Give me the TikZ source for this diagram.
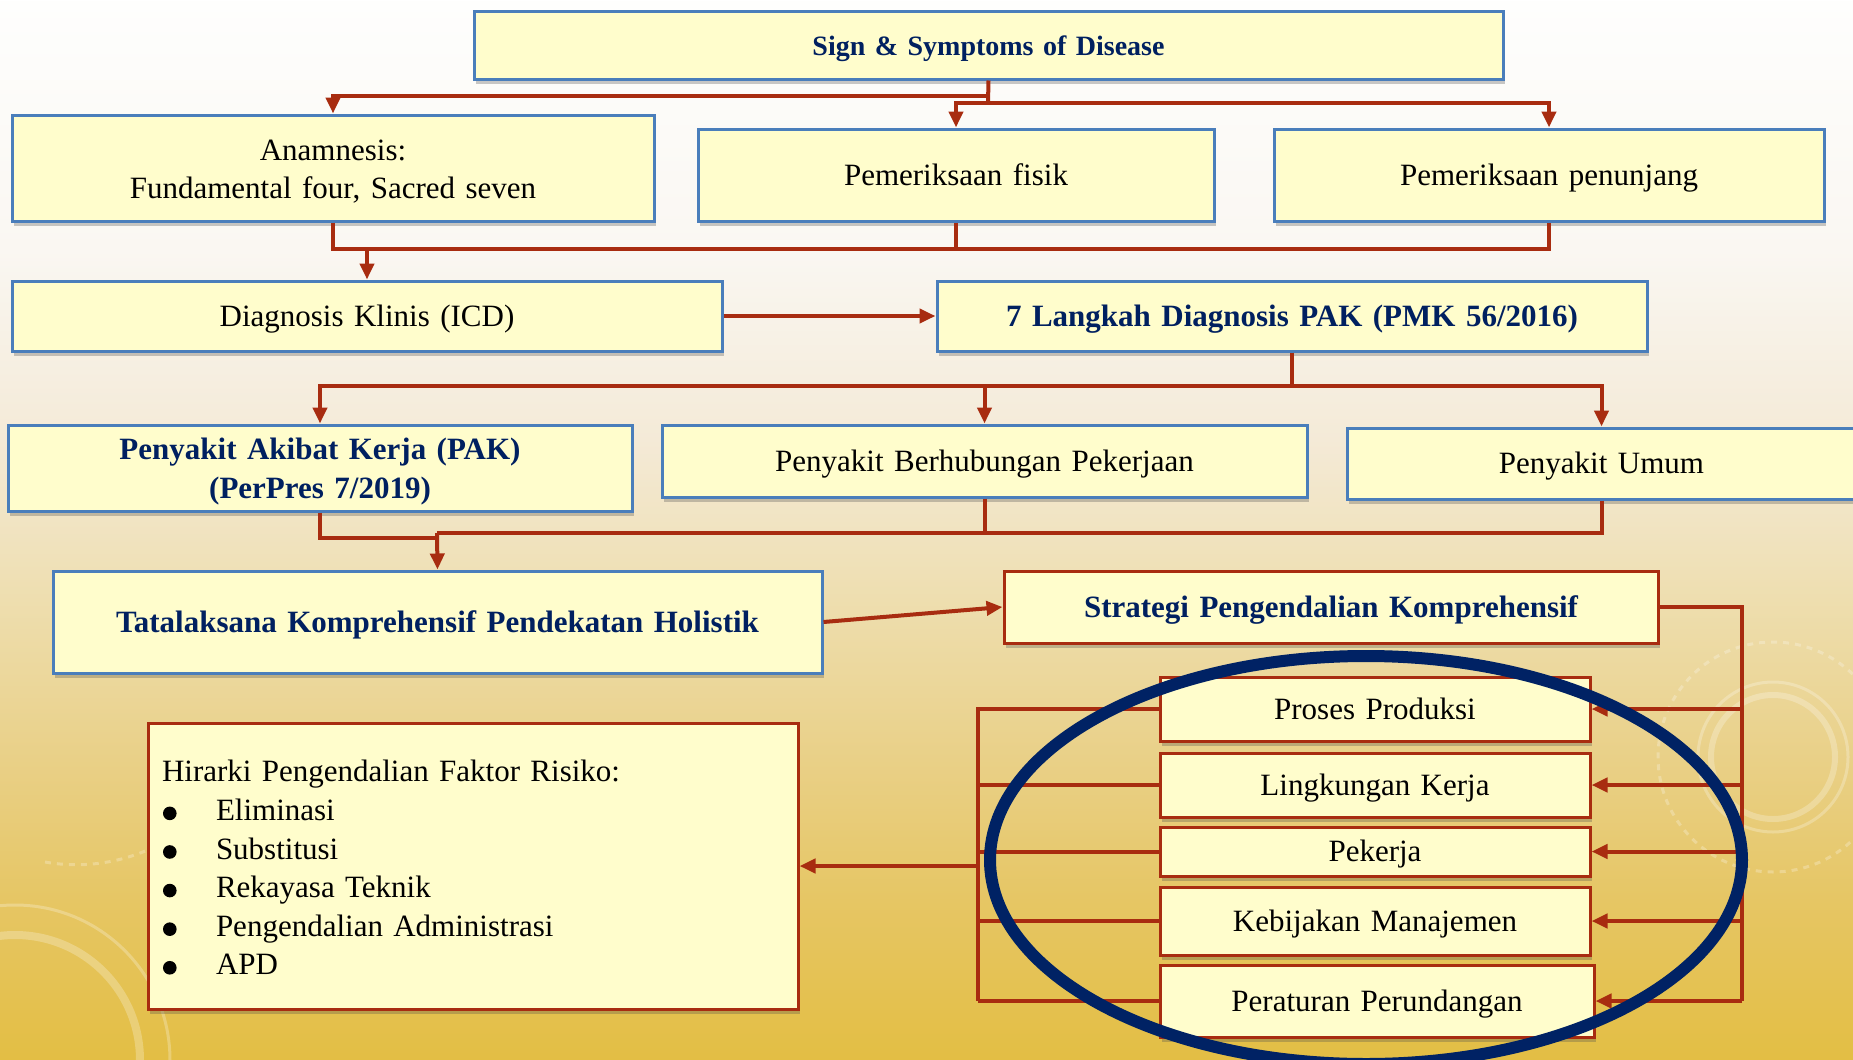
\documentclass[tikz,border=0pt]{standalone}
\usepackage{fontspec}
\setmainfont{Liberation Serif}[WordSpace=1.35]
\usetikzlibrary{arrows.meta,shadows,calc}
\definecolor{navy}{RGB}{0,32,96}
\definecolor{ellc}{RGB}{0,34,100}
\definecolor{bblue}{RGB}{74,126,187}
\definecolor{rline}{RGB}{168,44,16}
\definecolor{bfill}{RGB}{255,253,204}
\definecolor{bg0}{RGB}{227,190,68}
\definecolor{bg1}{RGB}{230,198,100}
\definecolor{bg2}{RGB}{233,208,135}
\definecolor{bg3}{RGB}{238,222,175}
\definecolor{bg4}{RGB}{244,234,215}
\definecolor{bg5}{RGB}{250,247,242}
\definecolor{bg6}{RGB}{254,254,253}
\pgfdeclareverticalshading{bgshade}{926.5pt}{color(0pt)=(bg0); color(80pt)=(bg1); color(150pt)=(bg2); color(230pt)=(bg3); color(310pt)=(bg4); color(405pt)=(bg5); color(530pt)=(bg6)}
\newcommand{\fs}{\fontsize{15.5}{19.3}\selectfont}
\newcommand{\fsS}{\fontsize{14}{17}\selectfont}
\newcommand{\blt}{\makebox[27pt][l]{\hspace*{0.5pt}\tikz[baseline=0pt]\fill[black] (3.4pt,3.6pt) circle[radius=3.4pt];}}
\tikzset{
  bb/.style={draw=bblue, line width=1.5pt, fill=bfill, inner sep=0pt, align=center, font=\fs,
    drop shadow={shadow xshift=1pt, shadow yshift=-2.5pt, opacity=0.3, fill=black!70}},
  rb/.style={bb, draw=rline},
  one/.style={text height=11.5pt, text depth=1.3pt},
  bold/.style={font=\fs\bfseries, text=navy},
  lin/.style={draw=rline, line width=2pt},
  arr/.style={draw=rline, line width=2pt, -{Triangle[length=8pt,width=7pt]}},
  deco/.style={draw=white, opacity=0.25}
}
\begin{document}
\begin{tikzpicture}[x=0.5pt,y=-0.5pt]
\useasboundingbox (0,0) rectangle (1853,1060);
\clip (0,0) rectangle (1853,1060);
\node[inner sep=0pt, outer sep=0pt, anchor=north west] (bg) at (0,0) {\pgfuseshading{bgshade}};
% faint decoration
\draw[deco, line width=4pt] (15,1060) circle[radius=125];
\draw[deco, line width=1.5pt] (15,1060) circle[radius=155];
\draw[deco, line width=1.5pt, dashed] (45,862) arc[start angle=100, end angle=30, radius=180];
\draw[deco, line width=3pt] (1773,757) circle[radius=62];
\draw[deco, line width=1.5pt] (1773,757) circle[radius=75];
\draw[deco, line width=1.5pt, dashed] (1773,757) circle[radius=115];
% boxes
\node[bb, one, minimum width=514.5pt, minimum height=34pt, font=\fsS\bfseries, text=navy] (sign) at (988.5,45) {Sign \& Symptoms of Disease};
\node[bb, minimum width=321pt, minimum height=53pt] (anam) at (333,168) {\rule{0pt}{14pt}Anamnesis:\\Fundamental four, Sacred seven};
\node[bb, one, minimum width=258pt, minimum height=46pt] (fisik) at (956,175) {Pemeriksaan fisik};
\node[bb, one, minimum width=275pt, minimum height=46pt] (pen) at (1549,175) {Pemeriksaan penunjang};
\node[bb, one, minimum width=355pt, minimum height=35pt] (diag) at (367,316) {Diagnosis Klinis (ICD)};
\node[bb, one, bold, minimum width=355pt, minimum height=35pt] (lang) at (1292,316) {7 Langkah Diagnosis PAK (PMK 56/2016)};
\node[bb, bold, minimum width=312pt, minimum height=43pt] (pak) at (320,468) {\rule{0pt}{14pt}Penyakit Akibat Kerja (PAK)\\(PerPres 7/2019)};
\node[bb, one, minimum width=322.5pt, minimum height=36pt] (berh) at (984.5,461) {Penyakit Berhubungan Pekerjaan};
\node[bb, one, minimum width=254.5pt, minimum height=35.5pt] (umum) at (1601.5,463.5) {Penyakit Umum};
\node[bb, one, bold, minimum width=384.5pt, minimum height=51pt] (tata) at (437.5,622) {Tatalaksana Komprehensif Pendekatan Holistik};
\node[rb, one, bold, minimum width=327pt, minimum height=36pt] (strat) at (1331,607) {Strategi Pengendalian Komprehensif};
\node[rb, one, minimum width=215pt, minimum height=32pt] (pros) at (1375,709) {Proses Produksi};
\node[rb, one, minimum width=215pt, minimum height=32pt] (ling) at (1375,785) {Lingkungan Kerja};
\node[rb, one, minimum width=215pt, minimum height=24.5pt] (pek) at (1375,851.5) {Pekerja};
\node[rb, one, minimum width=215pt, minimum height=34pt] (keb) at (1375,921) {Kebijakan Manajemen};
\node[rb, one, minimum width=217pt, minimum height=36pt] (per) at (1377,1001) {Peraturan Perundangan};
\node[rb, minimum width=325pt, minimum height=143pt, text width=311pt, align=left] (hir) at (473,866)
 {\rule{0pt}{12.5pt}Hirarki Pengendalian Faktor Risiko:\\
  \blt Eliminasi\\
  \blt Substitusi\\
  \blt Rekayasa Teknik\\
  \blt Pengendalian Administrasi\\
  \blt APD};
% connectors: top
\coordinate (j1) at (988,96);
\coordinate (j2) at (988,103);
\draw[lin] (sign.south) -- (j2);
\draw[arr] (j1) -| (anam.north);
\draw[arr] (j2) -| (fisik.north);
\draw[arr] (j2) -| (pen.north);
\coordinate (j3) at (367,249);
\draw[lin] (anam.south) |- (j3) -| (pen.south);
\draw[lin] (fisik.south) -- (fisik.south |- j3);
\draw[arr] (j3) -- (diag.north);
\draw[arr] (diag.east) -- (lang.west);
\coordinate (j4) at (1292,386);
\draw[lin] (lang.south) -- (j4);
\draw[arr] (j4) -| (pak.north);
\draw[arr] (j4) -| (umum.north);
\draw[arr] (berh.north |- j4) -- (berh.north);
\coordinate (j5) at (437,533);
\coordinate (j6) at (437,538);
\draw[lin] (pak.south) |- (j6);
\draw[lin] (umum.south) |- (j5);
\draw[lin] (berh.south) -- (berh.south |- j5);
\draw[arr] (j5) -- (tata.north);
\draw[arr] (tata.east) -- (strat.west);
% right bus
\coordinate (rb) at (1742,1001);
\draw[lin] (strat.east) -| (rb);
\draw[arr] (pros.east -| rb) -- (pros.east);
\draw[arr] (ling.east -| rb) -- (ling.east);
\draw[arr] (pek.east -| rb) -- (pek.east);
\draw[arr] (keb.east -| rb) -- (keb.east);
\draw[arr] (per.east -| rb) -- (per.east);
% left bus
\coordinate (lb) at (978,1001);
\coordinate (lm) at (978,866);
\draw[lin] (pros.west) -| (lb);
\draw[lin] (ling.west) -- (ling.west -| lb);
\draw[lin] (pek.west) -- (pek.west -| lb);
\draw[lin] (keb.west) -- (keb.west -| lb);
\draw[lin] (per.west) -- (per.west -| lb);
\draw[arr] (lm) -- (hir.east);
% ellipse
\draw[ellc, line width=6pt] (1366,860) ellipse[x radius=376, y radius=204];
\end{tikzpicture}
\end{document}
